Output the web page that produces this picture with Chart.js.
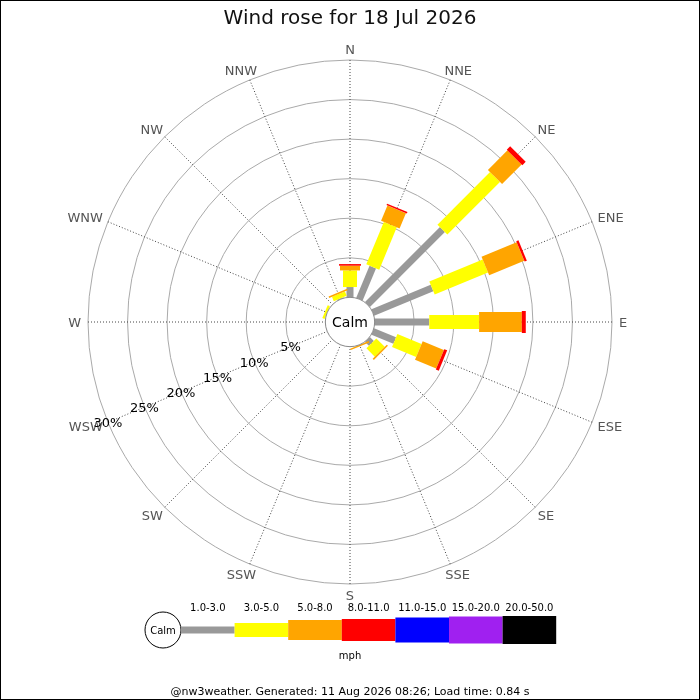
<!DOCTYPE html>
<html>
<head>
<meta charset="utf-8">
<script src="https://cdn.jsdelivr.net/npm/chart.js@4.4.1/dist/chart.umd.min.js"></script>
<style>
    html, body { margin: 0; padding: 0; background: #fff; }
    #wrap { width: 700px; height: 700px; }
</style>
</head>
<body>
<div id="wrap"><canvas id="rose" width="700" height="700"></canvas></div>
<script>
// 風向 (北から時計回り)
const directions = ['N', 'NNE', 'NE', 'ENE', 'E', 'ESE', 'SE', 'SSE', 'S', 'SSW', 'SW', 'WSW', 'W', 'WNW', 'NW', 'NNW'];

// 風速帯 (mph)
const bandLabels = ['1.0-3.0', '3.0-5.0', '5.0-8.0', '8.0-11.0', '11.0-15.0', '15.0-20.0', '20.0-50.0'];
const bandColors = ['#999999', '#ffff00', '#ffa500', '#ff0000', '#0000ff', '#a020f0', '#000000'];

// 各方位の出現率 (%)
const band1to3   = [1.3, 4.4, 13.4, 8.1, 6.9, 3.0, 0.7, 0, 0, 0, 0, 0, 0, 0, 0, 0.1];
const band3to5   = [2.1, 5.8, 9.4, 7.3, 6.3, 3.3, 1.5, 0, 0, 0, 0, 0, 0, 0.3, 0, 0.6];
const band5to8   = [0.6, 2.1, 3.5, 4.8, 5.4, 2.9, 0.2, 0.2, 0, 0, 0, 0, 0, 0, 0, 0.2];
const band8to11  = [0.2, 0.2, 0.6, 0.3, 0.5, 0.4, 0, 0, 0, 0, 0, 0, 0, 0, 0, 0];
const band11to15 = [0, 0, 0, 0, 0, 0, 0, 0, 0, 0, 0, 0, 0, 0, 0, 0];
const band15to20 = [0, 0, 0, 0, 0, 0, 0, 0, 0, 0, 0, 0, 0, 0, 0, 0];
const band20to50 = [0, 0, 0, 0, 0, 0, 0, 0, 0, 0, 0, 0, 0, 0, 0, 0];

// 目盛り
const tickValues = [5, 10, 15, 20, 25, 30];
const tickLabels = ['5%', '10%', '15%', '20%', '25%', '30%'];

const bands = [band1to3, band3to5, band5to8, band8to11, band11to15, band15to20, band20to50];

// 見た目の設定
const bandWidths = [7, 14, 20, 22, 25, 27, 28];
const CALM_MIN = -3.12;          // 0% がCalm円の縁に来るように
const TICK_DIR = 11;             // WSW に沿って目盛りラベル
const TEXT_DY = 1.5;             // middle ベースラインの補正

Chart.defaults.font.family = "'DejaVu Sans', sans-serif";
Chart.defaults.color = '#555';

const roseBars = {
    id: 'roseBars',
    beforeDraw(chart) {
        const ctx = chart.ctx;
        ctx.save();
        ctx.fillStyle = '#fff';
        ctx.fillRect(0, 0, chart.width, chart.height);
        ctx.restore();
    },
    afterDatasetsDraw(chart) {
        const r = chart.scales.r;
        const ctx = chart.ctx;
        ctx.save();

        // 棒
        directions.forEach((dir, i) => {
            const angle = r.getIndexAngle(i) - Math.PI / 2;
            let cum = 0;
            bands.forEach((vals, b) => {
                const v = vals[i];
                if (!v) return;
                const inner = r.getDistanceFromCenterForValue(cum);
                cum += v;
                const outer = r.getDistanceFromCenterForValue(cum);
                const w = bandWidths[b];
                ctx.save();
                ctx.translate(r.xCenter, r.yCenter);
                ctx.rotate(angle);
                ctx.fillStyle = bandColors[b];
                ctx.fillRect(inner, -w / 2, outer - inner, w);
                ctx.restore();
            });
        });

        // Calm
        const calmR = r.getDistanceFromCenterForValue(0);
        ctx.beginPath();
        ctx.arc(r.xCenter, r.yCenter, calmR, 0, Math.PI * 2);
        ctx.fillStyle = '#fff';
        ctx.fill();
        ctx.strokeStyle = '#888';
        ctx.lineWidth = 1;
        ctx.stroke();
        ctx.fillStyle = '#000';
        ctx.font = "14px 'DejaVu Sans'";
        ctx.textAlign = 'center';
        ctx.textBaseline = 'middle';
        ctx.fillText('Calm', r.xCenter, r.yCenter + TEXT_DY);

        // 方位ラベル
        ctx.font = "13px 'DejaVu Sans'";
        ctx.fillStyle = '#555';
        directions.forEach((dir, i) => {
            const a = r.getIndexAngle(i);
            const tw = ctx.measureText(dir).width;
            const p = r.getPointPosition(i, r.drawingArea + 7);
            const x = p.x + (tw / 2) * Math.sin(a);
            const y = p.y - 4 * Math.cos(a);
            ctx.fillText(dir, x, y + TEXT_DY);
        });

        // 目盛りラベル
        ctx.fillStyle = '#000';
        tickValues.forEach((v, k) => {
            const p = r.getPointPosition(TICK_DIR, r.getDistanceFromCenterForValue(v));
            ctx.fillText(tickLabels[k], p.x, p.y + TEXT_DY);
        });

        ctx.restore();
    },
    afterDraw(chart) {
        const ctx = chart.ctx;
        ctx.save();

        // 凡例
        const cy = 630;
        const cx = 163;
        const cr = 18;
        const segW = 53.6;
        ctx.beginPath();
        ctx.arc(cx, cy, cr, 0, Math.PI * 2);
        ctx.fillStyle = '#fff';
        ctx.fill();
        ctx.strokeStyle = '#000';
        ctx.lineWidth = 1;
        ctx.stroke();
        ctx.fillStyle = '#000';
        ctx.font = "10px 'DejaVu Sans'";
        ctx.textAlign = 'center';
        ctx.textBaseline = 'middle';
        ctx.fillText('Calm', cx, cy + 1);

        bandLabels.forEach((lab, b) => {
            const x0 = cx + cr + b * segW;
            const h = bandWidths[b];
            ctx.fillStyle = bandColors[b];
            ctx.fillRect(x0, cy - h / 2, segW, h);
            ctx.fillStyle = '#000';
            ctx.fillText(lab, x0 + segW / 2, 608);
        });
        ctx.fillText('mph', 350, 656);

        // フッター
        ctx.font = "11px 'DejaVu Sans'";
        ctx.fillText('@nw3weather. Generated: 11 Aug 2026 08:26; Load time: 0.84 s', 350, 692);

        // 枠
        ctx.strokeStyle = '#000';
        ctx.strokeRect(0.5, 0.5, chart.width - 1, chart.height - 1);
        ctx.restore();
    }
};

const ctx = document.getElementById('rose').getContext('2d');

new Chart(ctx, {
    type: 'radar',
    data: {
        labels: directions,
        datasets: bands.map((vals, b) => ({
            label: bandLabels[b],
            data: vals,
            fill: false,
            showLine: false,
            borderWidth: 0,
            pointRadius: 0,
            pointHoverRadius: 0,
            backgroundColor: 'transparent',
            borderColor: 'transparent'
        }))
    },
    options: {
        responsive: false,
        animation: false,
        events: [],
        layout: {
            padding: { top: 0, left: 88, right: 88, bottom: 115 }
        },
        scales: {
            r: {
                min: CALM_MIN,
                max: 30,
                startAngle: 0,
                afterBuildTicks: (scale) => {
                    scale.ticks = tickValues.map(v => ({ value: v }));
                },
                ticks: { display: false },
                pointLabels: { display: false },
                grid: {
                    circular: true,
                    color: '#aaaaaa',
                    lineWidth: 1
                },
                angleLines: {
                    color: '#444',
                    lineWidth: 1,
                    borderDash: [1, 2]
                }
            }
        },
        plugins: {
            legend: { display: false },
            tooltip: { enabled: false },
            title: {
                display: true,
                text: 'Wind rose for 18 Jul 2026',
                color: '#111',
                font: { size: 20, weight: 'normal', family: "'DejaVu Sans', sans-serif" },
                padding: { top: 7, bottom: 29 }
            }
        }
    },
    plugins: [roseBars]
});
</script>
</body>
</html>
